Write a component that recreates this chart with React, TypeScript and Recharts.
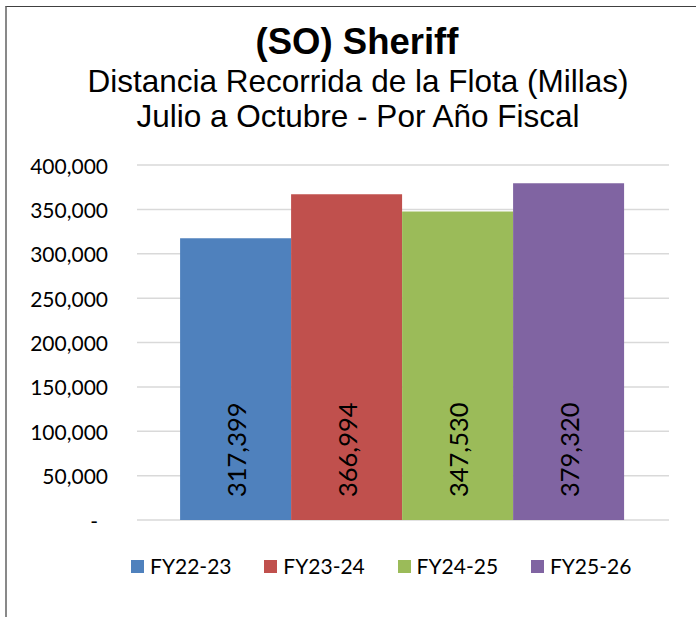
import React from 'react';
import { BarChart, Bar, XAxis, YAxis, CartesianGrid, LabelList, Legend } from 'recharts';

const categories = ['Julio a Octubre'];
const seriesNames = ['FY22-23', 'FY23-24', 'FY24-25', 'FY25-26'];
const seriesKeys = ['fy2223', 'fy2324', 'fy2425', 'fy2526'];
const seriesValues = [317399, 366994, 347530, 379320];
const seriesColors = ['#4F81BD', '#C0504D', '#9BBB59', '#8064A2'];
const yTicks = [0, 50000, 100000, 150000, 200000, 250000, 300000, 350000, 400000];
const titleLines = ['(SO) Sheriff', 'Distancia Recorrida de la Flota (Millas)', 'Julio a Octubre - Por Año Fiscal'];

const data = categories.map((c) => {
  const row: Record<string, any> = { name: c };
  seriesKeys.forEach((k, i) => {
    row[k] = seriesValues[i];
  });
  return row;
});

const fmt = (v: number) => (v === 0 ? '-' : v.toLocaleString('en-US'));

const YTick = (props: any) => {
  const { x, y, payload } = props;
  const v = payload.value as number;
  return (
    <text
      x={v === 0 ? x - 10 : x}
      y={y}
      textAnchor="end"
      dominantBaseline="central"
      fontFamily="Lato"
      fontSize={21}
      fill="#000"
    >
      {fmt(v)}
    </text>
  );
};

const renderBarLabel = (props: any) => {
  const { x, y, width, height, value } = props;
  const cx = x + width / 2;
  const by = y + height - 23;
  return (
    <text
      x={cx}
      y={by}
      transform={`rotate(-90 ${cx} ${by})`}
      textAnchor="start"
      dominantBaseline="central"
      fontFamily="Lato"
      fontSize={25.5}
      fill="#000"
    >
      {fmt(value)}
    </text>
  );
};

const renderLegend = (props: any) => {
  const payload = props.payload || [];
  return (
    <div style={{ display: 'flex', flexDirection: 'row', paddingLeft: 131 }}>
      {payload.map((p: any, i: number) => (
        <div
          key={i}
          style={{ display: 'flex', alignItems: 'center', width: 133.3, height: 28 }}
        >
          <div style={{ width: 13, height: 13, background: p.color, marginRight: 6 }} />
          <span style={{ fontFamily: 'Lato', fontSize: 21, color: '#000', lineHeight: '28px' }}>
            {p.value}
          </span>
        </div>
      ))}
    </div>
  );
};

export default function App() {
  return (
    <div
      style={{
        position: 'absolute',
        left: 0,
        top: 0,
        width: 696,
        height: 617,
        overflow: 'hidden',
        background: '#fff',
      }}
    >
      <div
        style={{
          position: 'absolute',
          left: 5,
          top: 6,
          width: 900,
          height: 900,
          borderLeft: '2px solid #898989',
          borderTop: '1px solid #404040',
        }}
      />
      <svg
        width={696}
        height={150}
        style={{ position: 'absolute', left: 0, top: 0 }}
      >
        <text
          x={357}
          y={54}
          textAnchor="middle"
          fontFamily="Liberation Sans"
          fontWeight="bold"
          fontSize={36.5}
          fill="#000"
        >
          {titleLines[0]}
        </text>
        <text
          x={358}
          y={92}
          textAnchor="middle"
          fontFamily="Liberation Sans"
          fontSize={31.5}
          fill="#000"
        >
          {titleLines[1]}
        </text>
        <text
          x={358}
          y={127}
          textAnchor="middle"
          fontFamily="Liberation Sans"
          fontSize={31.5}
          fill="#000"
        >
          {titleLines[2]}
        </text>
      </svg>
      <div style={{ position: 'absolute', left: 0, top: 0 }}>
        <BarChart
          width={696}
          height={617}
          data={data}
          margin={{ top: 165, right: 27, left: 0, bottom: 97 }}
          barCategoryGap="8.1%"
          barGap={0}
        >
          <CartesianGrid vertical={false} stroke="#D9D9D9" strokeWidth={1.5} />
          <XAxis dataKey="name" hide />
          <YAxis
            width={137}
            domain={[0, 400000]}
            ticks={yTicks}
            axisLine={false}
            tickLine={false}
            tickSize={6}
            tickMargin={23}
            tick={<YTick />}
            interval={0}
          />
          <Legend
            layout="horizontal"
            verticalAlign="middle"
            align="center"
            content={renderLegend}
            wrapperStyle={{ top: 552, left: 0, width: 696 }}
          />
          {seriesKeys.map((k, i) => (
            <Bar
              key={k}
              dataKey={k}
              name={seriesNames[i]}
              fill={seriesColors[i]}
              isAnimationActive={false}
            >
              <LabelList dataKey={k} content={renderBarLabel} />
            </Bar>
          ))}
        </BarChart>
      </div>
    </div>
  );
}
